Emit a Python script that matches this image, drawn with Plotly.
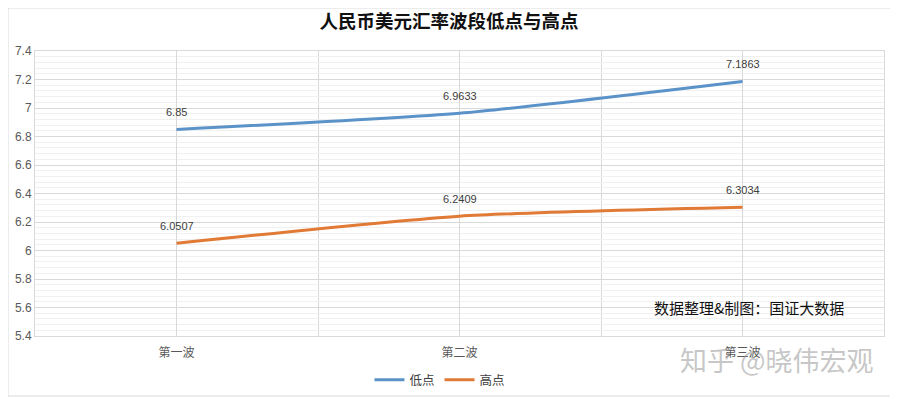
import plotly.graph_objects as go

categories = ["第一波", "第二波", "第三波"]
low_values = [6.85, 6.9633, 7.1863]
high_values = [6.0507, 6.2409, 6.3034]
low_labels = ["6.85", "6.9633", "7.1863"]
high_labels = ["6.0507", "6.2409", "6.3034"]

OFF = 8  # page body margin
PW, PH = 898, 399
W, H = PW - OFF, PH - OFF
# plot area in page pixels
PL, PR, PT, PB = 35, 884, 51, 336
L, R, T, B = PL - OFF, PW - PR, PT - OFF, PH - PB
pw, ph = PR - PL, PB - PT

def px(x):
    return (x - PL) / pw

def py(y):
    return (PB - y) / ph

font_cjk = "Noto Sans CJK SC, Microsoft YaHei, sans-serif"
xs = list(range(len(categories)))

fig = go.Figure()
fig.add_trace(go.Scatter(
    x=xs, y=low_values, name="低点", mode="lines",
    line=dict(color="#5B93C9", width=3, shape="spline", smoothing=0.6),
))
fig.add_trace(go.Scatter(
    x=xs, y=high_values, name="高点", mode="lines",
    line=dict(color="#E07A35", width=3, shape="spline", smoothing=0.6),
))

for vals, labs in ((low_values, low_labels), (high_values, high_labels)):
    for xv, yv, lab in zip(xs, vals, labs):
        fig.add_annotation(
            x=xv, y=yv, text=lab, showarrow=False, yshift=17,
            font=dict(size=11, color="#404040", family="Liberation Sans, Arial"),
        )

fig.update_layout(
    width=W, height=H,
    margin=dict(l=L, r=R, t=T, b=B, autoexpand=False),
    paper_bgcolor="white", plot_bgcolor="white",
    title=dict(text="<b>人民币美元汇率波段低点与高点</b>", x=(449 - OFF) / W, xanchor="center",
               y=1 - (22 - OFF) / H, yanchor="middle",
               font=dict(size=18.5, color="#111111", family=font_cjk)),
    legend=dict(orientation="h", x=px(440), xanchor="center", y=py(380),
                yanchor="middle", font=dict(size=12.5, color="#404040", family=font_cjk),
                itemwidth=30, traceorder="normal"),
    showlegend=True,
)

fig.update_xaxes(
    automargin=False,
    range=[-0.5, 2.5], tickvals=xs, ticktext=categories,
    showgrid=True, gridcolor="#D9D9D9", gridwidth=1,
    minor=dict(tickvals=[-0.5, 0.5, 1.5, 2.5], showgrid=True, gridcolor="#D9D9D9"),
    zeroline=False, showline=True, linecolor="#D9D9D9", mirror=True,
    ticks="", ticklabelstandoff=6,
    tickfont=dict(size=12, color="#595959", family=font_cjk),
)
fig.update_yaxes(
    automargin=False,
    range=[5.4, 7.4], dtick=0.2, tick0=5.4,
    showgrid=True, gridcolor="#D9D9D9", gridwidth=1,
    minor=dict(dtick=0.04, showgrid=True, gridcolor="#F0F0F0"),
    zeroline=False, showline=True, linecolor="#D9D9D9", mirror=True,
    ticks="", tickfont=dict(size=12, color="#595959", family="Liberation Sans, Arial"),
)

# annotation inside plot
fig.add_annotation(
    text="数据整理&制图：国证大数据", xref="paper", yref="paper",
    x=px(749), y=py(307), xanchor="center", yanchor="middle", showarrow=False,
    font=dict(size=15, color="#111111", family=font_cjk),
)
# watermark
fig.add_annotation(
    text="知乎 @晓伟宏观", xref="paper", yref="paper",
    x=px(777), y=py(359), xanchor="center", yanchor="middle", showarrow=False,
    font=dict(size=27, color="rgba(150,150,150,0.55)", family=font_cjk),
)
# outer frame (at figure edges)
fig.add_shape(
    type="rect", xref="paper", yref="paper",
    x0=px(OFF), x1=px(PW - 3),
    y0=py(PH - 3), y1=py(OFF),
    line=dict(color="#D9D9D9", width=1), layer="below",
)

fig.write_html("out.html")
